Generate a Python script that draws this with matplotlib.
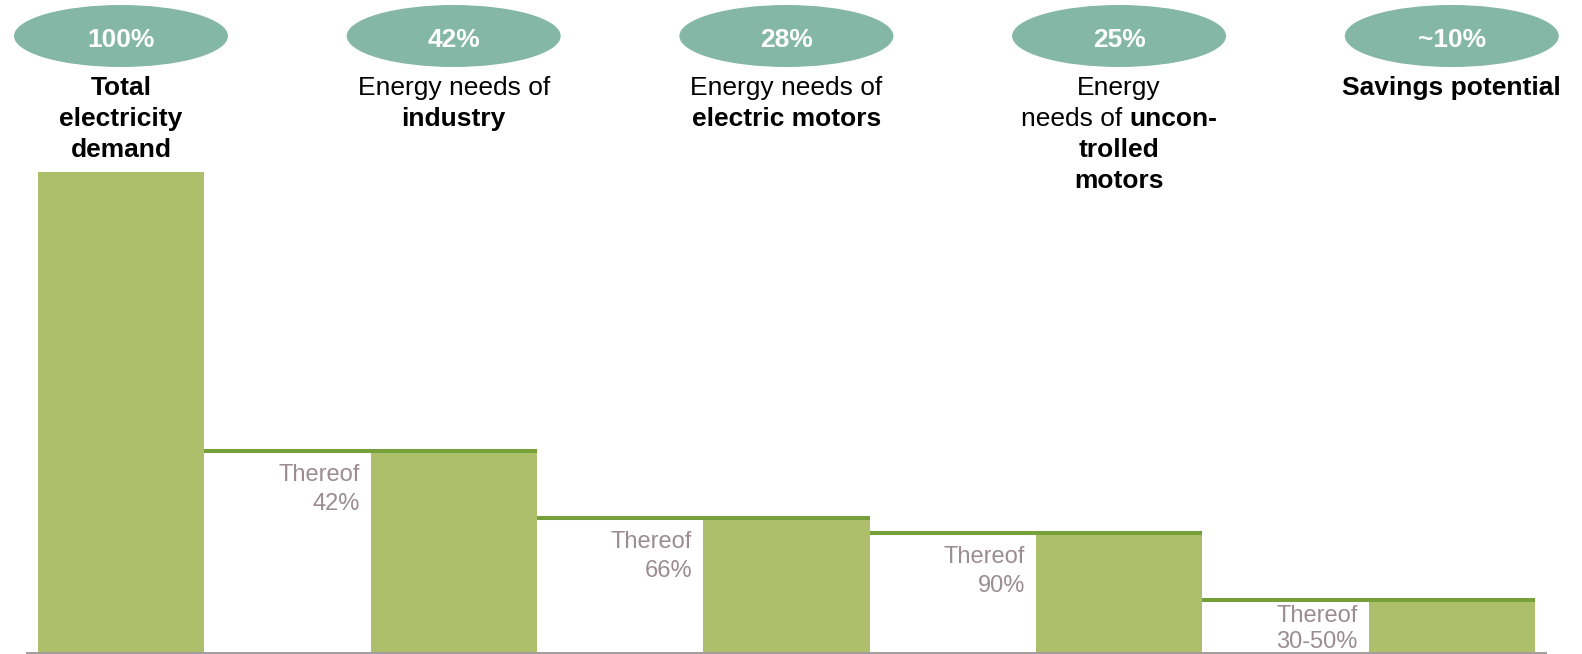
import matplotlib
matplotlib.use('Agg')
import matplotlib.pyplot as plt
from matplotlib.patches import Ellipse
from matplotlib.transforms import offset_copy

plt.rcParams['font.family'] = ['Liberation Sans', 'DejaVu Sans']

# share of total electricity demand at each step
shares = [100, 42, 28, 25, 11]
share_labels = ['100%', '42%', '28%', '25%', '~10%']
thereof_labels = ['42%', '66%', '90%', '30-50%']

# header lines per step: each line is a list of (text, weight) pieces
headers = [
    [[('Total', 'bold')], [('electricity', 'bold')], [('demand', 'bold')]],
    [[('Energy needs of', 'normal')], [('industry', 'bold')]],
    [[('Energy needs of', 'normal')], [('electric motors', 'bold')]],
    [[('Energy', 'normal')], [('needs of', 'normal'), ('uncon-', 'bold')],
     [('trolled', 'bold')], [('motors', 'bold')]],
    [[('Savings potential', 'bold')]],
]

BAR = '#adbf6a'
EDGE = '#76a03a'
OVAL = '#84b7a6'
GREY_TXT = '#9a8c90'
AXIS = '#a39c9c'

W, H = 1582, 654
fig = plt.figure(figsize=(W / 100, H / 100), dpi=100)
ax = fig.add_axes([0, 0, 1, 1])
ax.axis('off')

# pixel layout: step spacing and scale of one percent
x0, step = 121, 332.7
y0, unit = 653, 4.81
ax.set_xlim(-x0 / step, (W - x0) / step)
ax.set_ylim((y0 - H) / unit, y0 / unit)

xs = list(range(len(shares)))
half = 0.25
ax.bar(xs, shares, width=2 * half, color=BAR, zorder=2)

# connectors from previous bar edge across the top of the next bar
for i in range(1, len(shares)):
    ax.hlines(shares[i], i - 1 + half, i + half, color=EDGE, linewidth=2.9, zorder=3)

ax.hlines(0, (26 - x0) / step, (1547 - x0) / step, color=AXIS, linewidth=1.4, zorder=4)

# "Thereof" notes to the left of each following bar; the last one is squeezed
# in above the axis line
for i, lab in enumerate(thereof_labels, start=1):
    room = shares[i] * unit
    first, gap = (-30, 29) if room > 70 else (-22, 26)
    for k, line in enumerate(['Thereof', lab]):
        ax.annotate(line, xy=(i - half, shares[i]), xytext=(-11, first - gap * k),
                    textcoords='offset pixels', ha='right', va='baseline',
                    fontsize=17, color=GREY_TXT, zorder=5)

# ovals with the share values
oval_cy = (y0 - 36) / unit
for i, lab in enumerate(share_labels):
    ax.add_patch(Ellipse((i, oval_cy), 214 / step, 62 / unit, facecolor=OVAL,
                         edgecolor='none', clip_on=False, zorder=2))
    ax.text(i, (y0 - 47) / unit, lab, ha='center', va='baseline', fontsize=19,
            fontweight='bold', color='white', zorder=3)

renderer = fig.canvas.get_renderer()


def text_width(s, weight):
    t = ax.text(0, 0, s, fontsize=19, fontweight=weight)
    w = t.get_window_extent(renderer).width
    t.remove()
    return w


space_w = text_width('a a', 'normal') - text_width('aa', 'normal')

first_base, line_gap = 95, 31
for i, lines in enumerate(headers):
    for k, pieces in enumerate(lines):
        yb = (y0 - first_base - line_gap * k) / unit
        widths = [text_width(s, w) for s, w in pieces]
        total = sum(widths) + space_w * (len(pieces) - 1)
        off = -total / 2
        for (s, w), pw in zip(pieces, widths):
            tr = offset_copy(ax.transData, fig=fig, x=off, y=0, units='dots')
            ax.text(i, yb, s, transform=tr, ha='left', va='baseline',
                    fontsize=19, fontweight=w, color='black')
            off += pw + space_w

fig.savefig('out.png', dpi=100)
